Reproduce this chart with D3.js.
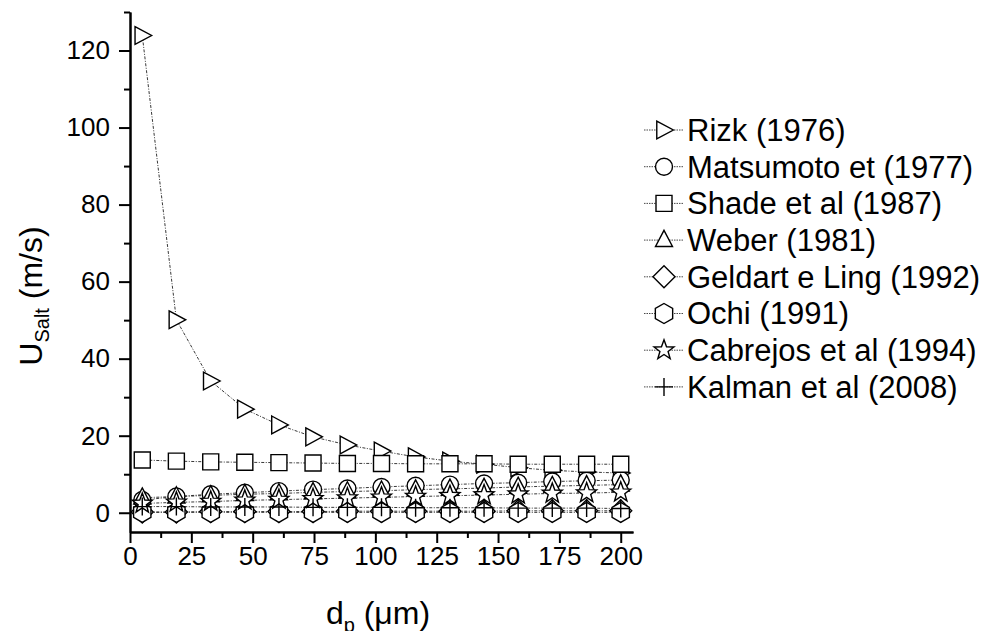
<!DOCTYPE html>
<html>
<head>
<meta charset="utf-8">
<script src="https://cdn.jsdelivr.net/npm/d3@7"></script>
<style>
  html, body { margin: 0; padding: 0; background: #fff; }
  svg { display: block; font-family: "Liberation Sans", Arial, sans-serif; }
</style>
</head>
<body>
<svg id="chart" width="997" height="631"></svg>
<script>
// Particle diameter (µm)
const dp = [5, 18.9, 32.9, 46.8, 60.7, 74.6, 88.6, 102.5, 116.4, 130.4, 144.3, 158.2, 172.1, 186.1, 200];

// Saltation velocity (m/s) from each correlation
const rizk      = [123.9, 50.1, 34.2, 26.9, 22.8, 19.7, 17.6, 16.0, 14.5, 13.4, 12.6, 11.7, 11.0, 10.6, 10.3];
const matsumoto = [3.3, 4.2, 4.8, 5.2, 5.6, 6.0, 6.3, 6.7, 7.0, 7.3, 7.6, 7.8, 8.1, 8.3, 8.5];
const shade     = [13.7, 13.4, 13.2, 13.1, 13.0, 12.9, 12.8, 12.8, 12.7, 12.7, 12.7, 12.6, 12.6, 12.6, 12.6];
const weber     = [3.9, 4.2, 4.5, 4.8, 5.0, 5.3, 5.5, 5.7, 6.0, 6.2, 6.4, 6.7, 6.9, 7.1, 7.3];
const geldart   = [0.2, 0.2, 0.3, 0.3, 0.3, 0.3, 0.4, 0.4, 0.4, 0.4, 0.4, 0.5, 0.5, 0.5, 0.5];
const ochi      = [0.1, 0.1, 0.1, 0.1, 0.1, 0.1, 0.1, 0.1, 0.1, 0.1, 0.1, 0.1, 0.1, 0.1, 0.1];
const cabrejos  = [2.4, 2.7, 2.9, 3.2, 3.4, 3.6, 3.8, 4.0, 4.2, 4.4, 4.6, 4.8, 5.0, 5.1, 5.3];
const kalman    = [1.6, 1.6, 1.5, 1.5, 1.5, 1.4, 1.4, 1.4, 1.3, 1.3, 1.3, 1.2, 1.2, 1.2, 1.1];

const seriesNames = ["Rizk (1976)", "Matsumoto et (1977)", "Shade et al (1987)", "Weber (1981)",
                     "Geldart e Ling (1992)", "Ochi (1991)", "Cabrejos et al (1994)", "Kalman et al (2008)"];
const seriesValues = [rizk, matsumoto, shade, weber, geldart, ochi, cabrejos, kalman];
const seriesSymbols = ["triRight", "circle", "square", "triUp", "diamond", "hexagon", "star", "plus"];

const xTicks = [0, 25, 50, 75, 100, 125, 150, 175, 200];
const yTicks = [0, 20, 40, 60, 80, 100, 120];

const svg = d3.select("#chart");
const x = d3.scaleLinear().domain([0, 205]).range([130, 633]);
const y = d3.scaleLinear().domain([-5, 130]).range([532, 12]);

// Symbol outlines, centred on the origin
function symbolPath(type) {
  const p = d3.path();
  const r = 8.5;
  if (type === "triRight") {
    p.moveTo(-r * 0.85, -r * 1.05); p.lineTo(r * 1.1, 0); p.lineTo(-r * 0.85, r * 1.05); p.closePath();
  } else if (type === "triUp") {
    p.moveTo(0, -r * 1.15); p.lineTo(r * 1.0, r * 0.75); p.lineTo(-r * 1.0, r * 0.75); p.closePath();
  } else if (type === "square") {
    p.rect(-8, -8, 16, 16);
  } else if (type === "circle") {
    p.arc(0, 0, r, 0, 2 * Math.PI); p.closePath();
  } else if (type === "diamond") {
    const d = 11;
    p.moveTo(0, -d); p.lineTo(d, 0); p.lineTo(0, d); p.lineTo(-d, 0); p.closePath();
  } else if (type === "hexagon") {
    const h = 10;
    for (let i = 0; i < 6; i++) {
      const a = -Math.PI / 2 + i * Math.PI / 3;
      if (i === 0) p.moveTo(h * Math.cos(a), h * Math.sin(a));
      else p.lineTo(h * Math.cos(a), h * Math.sin(a));
    }
    p.closePath();
  } else if (type === "star") {
    const ro = 10.5, ri = 4.3;
    for (let i = 0; i < 10; i++) {
      const a = -Math.PI / 2 + i * Math.PI / 5;
      const rr = i % 2 === 0 ? ro : ri;
      if (i === 0) p.moveTo(rr * Math.cos(a), rr * Math.sin(a));
      else p.lineTo(rr * Math.cos(a), rr * Math.sin(a));
    }
    p.closePath();
  } else if (type === "plus") {
    p.moveTo(-9, 0); p.lineTo(9, 0); p.moveTo(0, -9); p.lineTo(0, 9);
  }
  return p.toString();
}

function drawSymbol(g, type, cx, cy) {
  g.append("path")
    .attr("d", symbolPath(type))
    .attr("transform", `translate(${cx},${cy})`)
    .attr("fill", type === "plus" ? "none" : "#fff")
    .attr("stroke", "#000")
    .attr("stroke-width", 1.4)
    .attr("stroke-linejoin", "miter");
}

// Axes
const xAxis = d3.axisBottom(x).tickValues(xTicks).tickSize(11).tickSizeOuter(0).tickPadding(4);
const xMinor = d3.axisBottom(x).tickValues(d3.range(12.5, 200, 25)).tickSize(6).tickSizeOuter(0).tickFormat("");
const yAxis = d3.axisLeft(y).tickValues(yTicks).tickSize(11).tickSizeOuter(0).tickPadding(9);
const yMinor = d3.axisLeft(y).tickValues(d3.range(10, 140, 20)).tickSize(6).tickSizeOuter(0).tickFormat("");

function styleAxis(g) {
  g.selectAll("path.domain").attr("stroke", "#000").attr("stroke-width", 2);
  g.selectAll(".tick line").attr("stroke", "#000").attr("stroke-width", 2);
  g.selectAll(".tick text").attr("fill", "#000").attr("font-size", 26)
    .attr("font-family", "'Liberation Sans', Arial, sans-serif");
}

svg.append("g").attr("transform", "translate(0,532)").call(xMinor).call(styleAxis);
svg.append("g").attr("transform", "translate(0,532)").call(xAxis).call(styleAxis);
svg.append("g").attr("transform", "translate(130,0)").call(yMinor).call(styleAxis);
svg.append("g").attr("transform", "translate(130,0)").call(yAxis).call(styleAxis);

// Series: connecting lines first, then symbols in series order
const plot = svg.append("g");
const line = d3.line().x((d, i) => x(dp[i])).y(d => y(d));
seriesValues.forEach(vals => {
  plot.append("path")
    .attr("d", line(vals))
    .attr("fill", "none")
    .attr("stroke", "#222")
    .attr("stroke-width", 0.9)
    .attr("stroke-dasharray", "3,1.5,1,1.5");
});
seriesValues.forEach((vals, s) => {
  const g = plot.append("g");
  vals.forEach((v, i) => drawSymbol(g, seriesSymbols[s], x(dp[i]), y(v)));
});

// Legend
const legend = svg.append("g");
seriesNames.forEach((name, i) => {
  const ly = 130 + i * 36.7;
  legend.append("line")
    .attr("x1", 644).attr("x2", 684).attr("y1", ly).attr("y2", ly)
    .attr("stroke", "#333").attr("stroke-width", 0.9).attr("stroke-dasharray", "1.5,1");
  drawSymbol(legend, seriesSymbols[i], 664, ly);
  legend.append("text")
    .attr("x", 687).attr("y", ly).attr("dy", "0.35em")
    .attr("font-size", 31).attr("fill", "#000")
    .text(name);
});

// Axis titles
const yTitle = svg.append("text")
  .attr("transform", "translate(42,296) rotate(-90)")
  .attr("text-anchor", "middle")
  .attr("font-size", 32).attr("fill", "#000");
yTitle.append("tspan").text("U");
yTitle.append("tspan").attr("font-size", 20).attr("dy", 7).text("Salt");
yTitle.append("tspan").attr("dy", -7).text(" (m/s)");

const xTitle = svg.append("text")
  .attr("x", 378).attr("y", 624)
  .attr("text-anchor", "middle")
  .attr("font-size", 32).attr("fill", "#000");
xTitle.append("tspan").text("d");
xTitle.append("tspan").attr("font-size", 20).attr("dy", 8).text("p");
xTitle.append("tspan").attr("dy", -8).text(" (\u03BCm)");
</script>
</body>
</html>
